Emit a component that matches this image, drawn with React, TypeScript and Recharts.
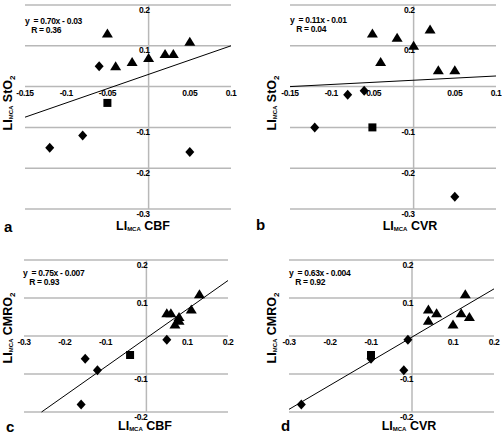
import React from "react";
import { ScatterChart, Scatter, XAxis, YAxis, ReferenceLine } from "recharts";

type Pt = { x: number; y: number };

// a: LI_MCA CBF vs LI_MCA StO2
const triA: Pt[] = [
  { x: -0.05, y: 0.13 }, { x: -0.04, y: 0.05 }, { x: -0.02, y: 0.06 }, { x: 0, y: 0.07 },
  { x: 0.02, y: 0.08 }, { x: 0.03, y: 0.08 }, { x: 0.05, y: 0.11 },
];
const diaA: Pt[] = [
  { x: -0.06, y: 0.05 }, { x: -0.08, y: -0.12 }, { x: -0.12, y: -0.15 }, { x: 0.05, y: -0.16 },
];
const sqA: Pt[] = [{ x: -0.05, y: -0.04 }];
const fitA: Pt[] = [{ x: -0.15, y: -0.075 }, { x: 0.1, y: 0.1 }];

// b: LI_MCA CVR vs LI_MCA StO2
const triB: Pt[] = [
  { x: -0.05, y: 0.13 }, { x: -0.02, y: 0.12 }, { x: 0, y: 0.1 }, { x: 0.02, y: 0.14 },
  { x: -0.04, y: 0.06 }, { x: 0.03, y: 0.04 }, { x: 0.05, y: 0.04 },
];
const diaB: Pt[] = [
  { x: -0.08, y: -0.02 }, { x: -0.06, y: -0.01 }, { x: -0.12, y: -0.1 }, { x: 0.05, y: -0.27 },
];
const sqB: Pt[] = [{ x: -0.05, y: -0.1 }];
const fitB: Pt[] = [{ x: -0.15, y: 0 }, { x: 0.1, y: 0.026 }];

// c: LI_MCA CBF vs LI_MCA CMRO2
const triC: Pt[] = [
  { x: 0.13, y: 0.11 }, { x: 0.11, y: 0.07 }, { x: 0.05, y: 0.06 }, { x: 0.06, y: 0.06 },
  { x: 0.08, y: 0.05 }, { x: 0.08, y: 0.04 }, { x: 0.07, y: 0.03 },
];
const diaC: Pt[] = [
  { x: 0.05, y: -0.01 }, { x: -0.15, y: -0.06 }, { x: -0.12, y: -0.09 }, { x: -0.16, y: -0.18 },
];
const sqC: Pt[] = [{ x: -0.04, y: -0.05 }];
const fitC: Pt[] = [{ x: -0.257, y: -0.2 }, { x: 0.2, y: 0.146 }];

// d: LI_MCA CVR vs LI_MCA CMRO2
const triD: Pt[] = [
  { x: 0.13, y: 0.11 }, { x: 0.04, y: 0.07 }, { x: 0.06, y: 0.06 }, { x: 0.04, y: 0.04 },
  { x: 0.12, y: 0.06 }, { x: 0.14, y: 0.05 }, { x: 0.1, y: 0.03 },
];
const diaD: Pt[] = [
  { x: -0.01, y: -0.01 }, { x: -0.02, y: -0.09 }, { x: -0.27, y: -0.18 }, { x: -0.1, y: -0.06 },
];
const sqD: Pt[] = [{ x: -0.1, y: -0.05 }];
const fitD: Pt[] = [{ x: -0.3, y: -0.193 }, { x: 0.2, y: 0.124 }];

const xTicksAB = ["-0.15", "-0.1", "-0.05", "0.05", "0.1"];
const yTicksAB = ["0.2", "0.1", "-0.1", "-0.2", "-0.3"];
const gridAB = [0.2, 0.1, 0, -0.1, -0.2, -0.3];
const xTicksCD = ["-0.3", "-0.2", "-0.1", "0.1", "0.2"];
const yTicksCD = ["0.2", "0.1", "-0.1", "-0.2"];
const gridCD = [0.2, 0.1, 0, -0.1, -0.2];

const tickFont = { fontFamily: "Liberation Sans, Arial", fontWeight: 700, fontSize: 8.5, letterSpacing: -0.4 };

const Triangle = (p: any) => (
  <polygon points={`${p.cx},${p.cy - 5} ${p.cx + 5.5},${p.cy + 4} ${p.cx - 5.5},${p.cy + 4}`} fill="#000" />
);
const Diamond = (p: any) => (
  <polygon points={`${p.cx},${p.cy - 5} ${p.cx + 4.5},${p.cy} ${p.cx},${p.cy + 5} ${p.cx - 4.5},${p.cy}`} fill="#000" />
);
const Square = (p: any) => <rect x={p.cx - 4} y={p.cy - 4} width={8} height={8} fill="#000" />;
const XTickText = (p: any) => (
  <text x={p.cx} y={p.cy + 9} textAnchor="middle" fill="#000" style={tickFont}>{p.payload.label}</text>
);
const YTickText = (p: any) => (
  <text x={p.cx + 1} y={p.cy + 7.5} textAnchor="end" fill="#000" style={tickFont}>{p.payload.label}</text>
);

type PanelProps = {
  left: number;
  top: number;
  margin: { left: number; right: number; top: number; bottom: number };
  xDomain: [number, number];
  yDomain: [number, number];
  grid: number[];
  xTicks: string[];
  yTicks: string[];
  tri: Pt[];
  dia: Pt[];
  sq: Pt[];
  fit: Pt[];
};

function Panel(props: PanelProps) {
  const xt = props.xTicks.map((s) => ({ x: parseFloat(s), y: 0, label: s }));
  const yt = props.yTicks.map((s) => ({ x: 0, y: parseFloat(s), label: s }));
  return (
    <div style={{ position: "absolute", left: props.left, top: props.top }}>
      <ScatterChart width={251} height={219} margin={props.margin}>
        <XAxis type="number" dataKey="x" domain={props.xDomain} hide />
        <YAxis type="number" dataKey="y" domain={props.yDomain} hide />
        {props.grid.map((g) => (
          <ReferenceLine key={g} y={g} stroke="#b8b8b8" strokeWidth={1.5} />
        ))}
        <ReferenceLine x={0} stroke="#b8b8b8" strokeWidth={1.5} />
        <ReferenceLine
          segment={[props.fit[0], props.fit[1]]}
          stroke="#000"
          strokeWidth={1}
        />
        <Scatter data={xt} shape={XTickText} isAnimationActive={false} />
        <Scatter data={yt} shape={YTickText} isAnimationActive={false} />
        <Scatter data={props.tri} shape={Triangle} isAnimationActive={false} />
        <Scatter data={props.dia} shape={Diamond} isAnimationActive={false} />
        <Scatter data={props.sq} shape={Square} isAnimationActive={false} />
      </ScatterChart>
    </div>
  );
}

const sub = { fontSize: 6, verticalAlign: "-1px" } as const;
const sub2 = { fontSize: 8, verticalAlign: "-3px" } as const;
const axisLbl: React.CSSProperties = {
  position: "absolute",
  fontFamily: "Liberation Sans, Arial",
  fontWeight: 700,
  fontSize: 12.5,
  whiteSpace: "nowrap",
  lineHeight: 1,
};

function XLabel({ x, y, name }: { x: number; y: number; name: string }) {
  return (
    <div style={{ ...axisLbl, left: x, top: y, transform: "translate(-50%,-50%)" }}>
      LI<span style={sub}>MCA</span> {name}
    </div>
  );
}

function YLabel({ x, y, name }: { x: number; y: number; name: string }) {
  return (
    <div style={{ ...axisLbl, left: x, top: y, transform: "translate(-50%,-50%) rotate(-90deg)" }}>
      LI<span style={sub}>MCA</span> {name}<span style={sub2}>2</span>
    </div>
  );
}

function Eq({ x, y, line1, line2 }: { x: number; y: number; line1: string; line2: string }) {
  const st: React.CSSProperties = {
    position: "absolute",
    fontFamily: "Liberation Sans, Arial",
    fontWeight: 700,
    fontSize: 8.5,
    letterSpacing: -0.3,
    whiteSpace: "pre",
    lineHeight: "9px",
    left: x,
    top: y,
  };
  return (
    <div style={st}>
      {line1}
      {"\n"}
      {"   "}
      {line2}
    </div>
  );
}

function Letter({ x, y, t }: { x: number; y: number; t: string }) {
  return (
    <div style={{ ...axisLbl, fontSize: 15, left: x, top: y, transform: "translate(0,-50%)" }}>{t}</div>
  );
}

export default function App() {
  return (
    <div style={{ position: "absolute", left: 0, top: 0, width: 502, height: 438, background: "#fff" }}>
      <Panel left={0} top={0} margin={{ left: 25, right: 20, top: 5, bottom: 10 }}
        xDomain={[-0.15, 0.1]} yDomain={[-0.3, 0.2]} grid={gridAB} xTicks={xTicksAB} yTicks={yTicksAB}
        tri={triA} dia={diaA} sq={sqA} fit={fitA} />
      <Panel left={251} top={0} margin={{ left: 39, right: 6, top: 5, bottom: 10 }}
        xDomain={[-0.15, 0.1]} yDomain={[-0.3, 0.2]} grid={gridAB} xTicks={xTicksAB} yTicks={yTicksAB}
        tri={triB} dia={diaB} sq={sqB} fit={fitB} />
      <Panel left={0} top={219} margin={{ left: 24, right: 23, top: 41, bottom: 26 }}
        xDomain={[-0.3, 0.2]} yDomain={[-0.2, 0.2]} grid={gridCD} xTicks={xTicksCD} yTicks={yTicksCD}
        tri={triC} dia={diaC} sq={sqC} fit={fitC} />
      <Panel left={251} top={219} margin={{ left: 38, right: 8, top: 41, bottom: 26 }}
        xDomain={[-0.3, 0.2]} yDomain={[-0.2, 0.2]} grid={gridCD} xTicks={xTicksCD} yTicks={yTicksCD}
        tri={triD} dia={diaD} sq={sqD} fit={fitD} />

      <Eq x={25} y={17} line1="y  = 0.70x - 0.03" line2="R = 0.36" />
      <Eq x={290} y={16} line1="y  = 0.11x - 0.01" line2="R = 0.04" />
      <Eq x={23} y={269} line1="y  = 0.75x - 0.007" line2="R = 0.93" />
      <Eq x={289} y={269} line1="y  = 0.63x - 0.004" line2="R = 0.92" />

      <YLabel x={9} y={103} name="StO" />
      <YLabel x={273} y={103} name="StO" />
      <YLabel x={9} y={328} name="CMRO" />
      <YLabel x={273} y={328} name="CMRO" />

      <XLabel x={143} y={226} name="CBF" />
      <XLabel x={410} y={226} name="CVR" />
      <XLabel x={145} y={426} name="CBF" />
      <XLabel x={409} y={426} name="CVR" />

      <Letter x={4} y={226} t="a" />
      <Letter x={256} y={224} t="b" />
      <Letter x={6} y={426} t="c" />
      <Letter x={281} y={425} t="d" />
    </div>
  );
}
